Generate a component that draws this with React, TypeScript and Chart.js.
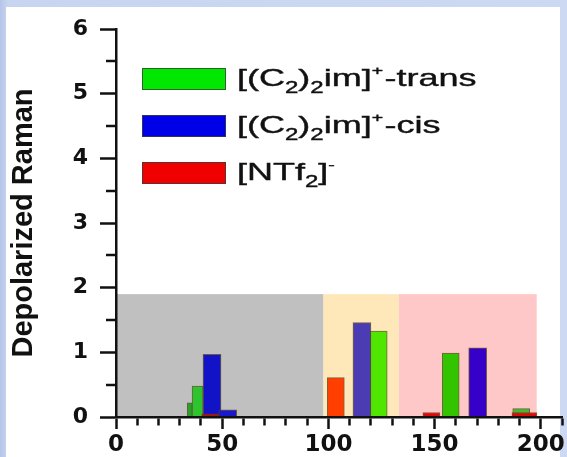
import React, { useEffect, useRef } from 'react';
import { Chart, registerables } from 'chart.js';

Chart.register(...registerables);

// ---- data (x = wavenumber-like axis, y = Depolarized Raman) ----
const transX = [123.7, 157.6, 190.8];
const transY = [1.33, 0.99, 0.13];
const transColors = ['#50E600', '#33C400', '#40BC30'];

const transMidX = [38.4];
const transMidY = [0.48];
const transMidColors = ['#2EC42E'];

const transNarrowX = [34.7];
const transNarrowY = [0.22];
const transNarrowColors = ['#24A424'];

const cisX = [45.2, 52.6, 115.8, 170.3];
const cisY = [0.97, 0.11, 1.46, 1.07];
const cisColors = ['#1212C6', '#1818CC', '#4C3CB4', '#3600C8'];

const ntfX = [44.4, 103.5, 148.5];
const ntfY = [0.05, 0.61, 0.07];
const ntfColors = ['#B01010', '#FF3E00', '#E00808'];

const ntfWideX = [192.3];
const ntfWideY = [0.07];
const ntfWideColors = ['#E00808'];

// shaded regions
const regionFrom = [0, 97.7, 133.2];
const regionTo = [97.7, 133.2, 198.1];
const regionTop = [1.9, 1.9, 1.9];
const regionColors = ['#C0C0C0', '#FEE8BA', '#FFC8C8'];

// axes
const xMin = 0;
const xMax = 210;
const xStep = 10;
const xLabelEvery = 50;
const yMin = 0;
const yMax = 6;
const yStep = 0.5;
const yTitle = 'Depolarized Raman';

// legend (segments: [text, kind])
const legendTrans: [string, string][] = [['[(C', ''], ['2', 'sub'], [')', ''], ['2', 'sub'], ['im]', ''], ['+', 'sup'], ['-trans', '']];
const legendCis: [string, string][] = [['[(C', ''], ['2', 'sub'], [')', ''], ['2', 'sub'], ['im]', ''], ['+', 'sup'], ['-cis', '']];
const legendNtf: [string, string][] = [['[NTf', ''], ['2', 'sub'], [']', ''], ['-', 'sup']];
const legendColors = ['#00E800', '#0000E8', '#F00000'];

const pts = (xs: number[], ys: number[]) => xs.map((x, i) => ({ x, y: ys[i] }));

const regionPlugin = {
  id: 'regions',
  beforeDraw(chart: any) {
    const { ctx, scales } = chart;
    const xs = scales.x;
    const ys = scales.y;
    ctx.save();
    regionFrom.forEach((f, i) => {
      const x1 = xs.getPixelForValue(f);
      const x2 = xs.getPixelForValue(regionTo[i]);
      const y1 = ys.getPixelForValue(regionTop[i]);
      const y2 = ys.getPixelForValue(0);
      ctx.fillStyle = regionColors[i];
      ctx.fillRect(x1, y1, x2 - x1, y2 - y1);
    });
    ctx.restore();
  },
};

// minor ticks of the y axis (half steps), drawn from the scale's own ticks
const minorTickPlugin = {
  id: 'minorTicks',
  afterDraw(chart: any) {
    const { ctx } = chart;
    const ys = chart.scales.y;
    ctx.save();
    ctx.strokeStyle = '#111';
    ctx.lineWidth = 2.5;
    ctx.setLineDash([]);
    ys.ticks.forEach((t: any) => {
      if (Number.isInteger(t.value)) return;
      const py = Math.round(ys.getPixelForValue(t.value));
      ctx.beginPath();
      ctx.moveTo(ys.right - 10, py);
      ctx.lineTo(ys.right, py);
      ctx.stroke();
    });
    ctx.restore();
  },
};

const legendPlugin = {
  id: 'customLegend',
  afterDraw(chart: any) {
    const { ctx, chartArea } = chart;
    const items = [legendTrans, legendCis, legendNtf];
    ctx.save();
    items.forEach((segs, i) => {
      const bx = chartArea.left + 26;
      const by = chartArea.top + 39 + i * 47;
      ctx.fillStyle = legendColors[i];
      ctx.fillRect(bx, by, 84, 22);
      ctx.strokeStyle = 'rgba(60,60,60,0.8)';
      ctx.lineWidth = 1;
      ctx.strokeRect(bx + 0.5, by + 0.5, 83, 21);
      ctx.save();
      ctx.translate(bx + 95, by + 18);
      ctx.scale(1.5, 1);
      ctx.fillStyle = '#111';
      ctx.strokeStyle = '#111';
      ctx.lineWidth = 0.4;
      ctx.textBaseline = 'alphabetic';
      let x = 0;
      segs.forEach(([t, kind]) => {
        let dy = 0;
        if (kind === 'sub') {
          ctx.font = '16px "Liberation Sans", Arial, sans-serif';
          dy = 7;
        } else if (kind === 'sup') {
          ctx.font = '13px "Liberation Sans", Arial, sans-serif';
          dy = -11;
        } else {
          ctx.font = '24px "Liberation Sans", Arial, sans-serif';
        }
        ctx.fillText(t, x, dy);
        ctx.strokeText(t, x, dy);
        x += ctx.measureText(t).width + (kind === 'sup' ? 1 : 0);
      });
      ctx.restore();
    });
    ctx.restore();
  },
};

const barBorder = 'rgba(85,65,30,0.8)';

export default function App() {
  const ref = useRef<HTMLCanvasElement>(null);
  useEffect(() => {
    document.body.style.margin = '0';
    const chart = new Chart(ref.current as HTMLCanvasElement, {
      type: 'bar',
      data: {
        datasets: [
          { label: '[NTf2]-', data: pts(ntfX, ntfY), backgroundColor: ntfColors, barThickness: 17, stack: 'a' },
          { label: '[NTf2]- b', data: pts(ntfWideX, ntfWideY), backgroundColor: ntfWideColors, barThickness: 25, stack: 'a' },
          { label: '[(C2)2im]+-cis', data: pts(cisX, cisY), backgroundColor: cisColors, barThickness: 18, stack: 'a' },
          { label: '[(C2)2im]+-trans', data: pts(transX, transY), backgroundColor: transColors, barThickness: 17, stack: 'a' },
          { label: 'trans b', data: pts(transMidX, transMidY), backgroundColor: transMidColors, barThickness: 11, stack: 'a' },
          { label: 'trans c', data: pts(transNarrowX, transNarrowY), backgroundColor: transNarrowColors, barThickness: 5, stack: 'a' },
        ].map((d) => ({ ...d, borderColor: barBorder, borderWidth: 1, grouped: true })) as any,
      },
      options: {
        animation: false,
        responsive: false,
        layout: { padding: { top: 29, right: 5, left: 0, bottom: 0 } },
        plugins: { legend: { display: false }, tooltip: { enabled: false } },
        scales: {
          x: {
            type: 'linear',
            min: xMin,
            max: xMax,
            offset: false,
            afterFit: (s: any) => { s.height = 40; },
            border: { display: true, color: '#111', width: 2.5, z: 1 },
            grid: {
              offset: false,
              drawOnChartArea: false,
              drawTicks: true,
              tickLength: 12,
              tickWidth: 2.5,
              tickColor: '#111',
              tickBorderDash: (c: any) => (c.tick && c.tick.value % xLabelEvery === 0 ? [] : [7, 100]),
            },
            ticks: {
              stepSize: xStep,
              maxTicksLimit: 100,
              autoSkip: false,
              maxRotation: 0,
              padding: 5,
              color: '#111',
              font: { family: '"DejaVu Sans", sans-serif', weight: 'bold', size: 23, lineHeight: 1 },
              callback: (v: any) => (v % xLabelEvery === 0 ? String(v) : ''),
            },
          },
          y: {
            min: yMin,
            max: yMax,
            stacked: false,
            afterFit: (s: any) => { s.width = 116; },
            border: { display: true, color: '#111', width: 2.5, z: 1 },
            grid: {
              drawOnChartArea: false,
              drawTicks: true,
              tickLength: 16,
              tickWidth: (c: any) => (c.tick && Number.isInteger(c.tick.value) ? 2.5 : 0),
              tickColor: '#111',
            },
            ticks: {
              stepSize: yStep,
              maxTicksLimit: 100,
              autoSkip: false,
              padding: 12,
              color: '#111',
              font: { family: '"DejaVu Sans", sans-serif', weight: 'bold', size: 22, lineHeight: 1 },
              callback: (v: any) => (Number.isInteger(v) ? String(v) : ''),
            },
            title: {
              display: true,
              text: yTitle,
              color: '#111',
              padding: { top: 7, bottom: 0 },
              font: { family: '"Liberation Sans", Arial, sans-serif', weight: 'bold', size: 29, lineHeight: 1.2 },
            },
          },
        },
      },
      plugins: [regionPlugin, legendPlugin, minorTickPlugin],
    } as any);
    return () => chart.destroy();
  }, []);

  return (
    <div
      style={{
        position: 'relative',
        width: 567,
        height: 457,
        overflow: 'hidden',
        background: 'linear-gradient(to right, #B4C5E8 0px, #C8D5F0 8px, #CDD9F2 100%)',
      }}
    >
      <div style={{ position: 'absolute', left: 6, top: 7, width: 554, height: 450, background: '#ffffff' }} />
      <canvas
        ref={ref}
        width={567}
        height={457}
        style={{ position: 'absolute', left: 0, top: 0, width: 567, height: 457 }}
      />
    </div>
  );
}
